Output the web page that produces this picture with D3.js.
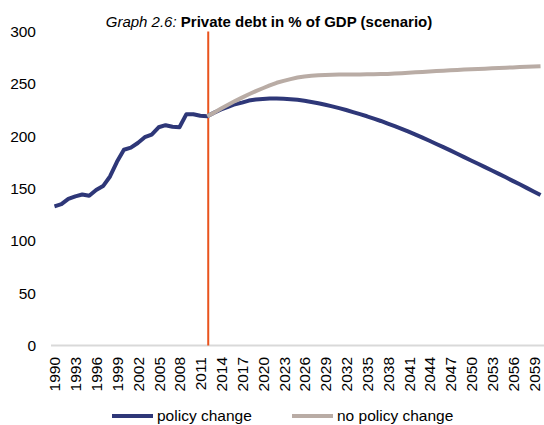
<!DOCTYPE html>
<html>
<head>
<meta charset="utf-8">
<script src="https://cdn.jsdelivr.net/npm/d3@7"></script>
<style>
  body { margin: 0; background: #fff; }
  text { font-family: Arial, "Liberation Sans", sans-serif; fill: #000; }
</style>
</head>
<body>
<script>
// Data
let years = d3.range(1990, 2061);

// policy change: history 1990-2012, then projection 2013-2060
let policyChange = [
  133, 135, 140, 142.5, 144.3, 143, 148.5, 152.3, 161.5, 175.5,
  187, 189, 193.5, 199, 201.5, 208.5, 210.5, 209, 208.5, 221,
  221, 219.5, 219,
  222.5, 225.5, 228, 230.5, 232, 234, 235, 235.5, 236, 236,
  235.7, 235.3, 234.7, 233.8, 232.7, 231.5, 230, 228.5, 226.8, 225,
  223, 221, 219, 216.8, 214.5, 212, 209.5, 207, 204.3, 201.5,
  198.6, 195.6, 192.5, 189.5, 186.4, 183.2, 180, 176.8, 173.6, 170.4,
  167.2, 164, 160.7, 157.3, 154, 150.6, 147.2, 143.7
];

// no policy change: 2012-2060 (null before)
let noPolicyChange = new Array(22).fill(null).concat([
  219,
  222.5, 226.5, 230, 233.5, 236.8, 240, 243, 245.8, 248.5, 251,
  252.8, 254.5, 256, 257, 257.7, 258.2, 258.5, 258.7, 258.8, 258.9,
  259, 259, 259.1, 259.2, 259.3, 259.5, 259.8, 260.2, 260.6, 261,
  261.4, 261.8, 262.2, 262.6, 263, 263.3, 263.6, 263.9, 264.2, 264.5,
  264.8, 265.1, 265.4, 265.7, 266, 266.3, 266.5, 266.8
]);

let splitYear = 2012;
let xTicks = d3.range(1990, 2060, 3);
let yTicks = [0, 50, 100, 150, 200, 250, 300];

let series = [
  { name: 'policy change', values: policyChange, color: '#2E3778' },
  { name: 'no policy change', values: noPolicyChange, color: '#B9ACA5' }
];

let width = 544,
    height = 425;

let margin = { top: 31.5, bottom: 79.5, left: 51, right: 0 };

let svg = d3.select('body')
            .append('svg')
            .attr('width', width)
            .attr('height', height);

let xscale = d3.scalePoint()
               .domain(years)
               .range([margin.left, width - margin.right])
               .padding(0.5);

let yscale = d3.scaleLinear()
               .domain([0, 300])
               .range([height - margin.bottom, margin.top]);

// y axis (labels only)
let yaxis = svg.append('g')
               .attr('transform', `translate(${margin.left},0)`)
               .call(d3.axisLeft(yscale).tickValues(yTicks).tickSize(0).tickPadding(15));
yaxis.select('.domain').remove();
yaxis.selectAll('text')
     .style('font-size', '15.5px')
     .style('font-family', 'Arial, "Liberation Sans", sans-serif');

// x axis
let xaxis = svg.append('g')
               .attr('transform', `translate(0,${yscale(0)})`)
               .call(d3.axisBottom(xscale).tickValues(xTicks).tickSize(0));
xaxis.select('.domain')
     .attr('stroke', '#D9D9D9')
     .attr('stroke-width', 2)
     .attr('d', `M${margin.left},0H${width - margin.right}`);
xaxis.selectAll('text')
     .attr('transform', 'rotate(-90)')
     .attr('x', -11.5)
     .attr('y', 0)
     .attr('dy', '0.35em')
     .attr('text-anchor', 'end')
     .style('font-size', '15.5px')
     .style('font-family', 'Arial, "Liberation Sans", sans-serif');

// vertical marker
svg.append('line')
   .attr('x1', xscale(splitYear) + 1)
   .attr('x2', xscale(splitYear) + 1)
   .attr('y1', yscale(300))
   .attr('y2', yscale(0))
   .attr('stroke', '#E9531D')
   .attr('stroke-width', 2);

// lines
let line = d3.line()
             .defined(d => d[1] != null)
             .x(d => xscale(d[0]))
             .y(d => yscale(d[1]));

series.forEach(s => {
  svg.append('path')
     .datum(years.map((y, i) => [y, s.values[i]]))
     .attr('d', line)
     .attr('fill', 'none')
     .attr('stroke', s.color)
     .attr('stroke-width', 4)
     .attr('stroke-linejoin', 'round');
});

// title
let title = svg.append('text')
               .attr('x', 269)
               .attr('y', 26.5)
               .attr('text-anchor', 'middle')
               .style('font-size', '15px');
title.append('tspan').style('font-style', 'italic').text('Graph 2.6: ');
title.append('tspan').style('font-weight', 'bold').text('Private debt in % of GDP (scenario)');

// legend
let legendX = [112, 292];
series.forEach((s, i) => {
  let g = svg.append('g').attr('transform', `translate(${legendX[i]},416)`);
  g.append('line')
   .attr('x1', 0).attr('x2', 41)
   .attr('stroke', s.color)
   .attr('stroke-width', 4);
  g.append('text')
   .attr('x', 45)
   .attr('dy', '0.35em')
   .style('font-size', '15.5px')
   .text(s.name);
});
</script>
</body>
</html>
